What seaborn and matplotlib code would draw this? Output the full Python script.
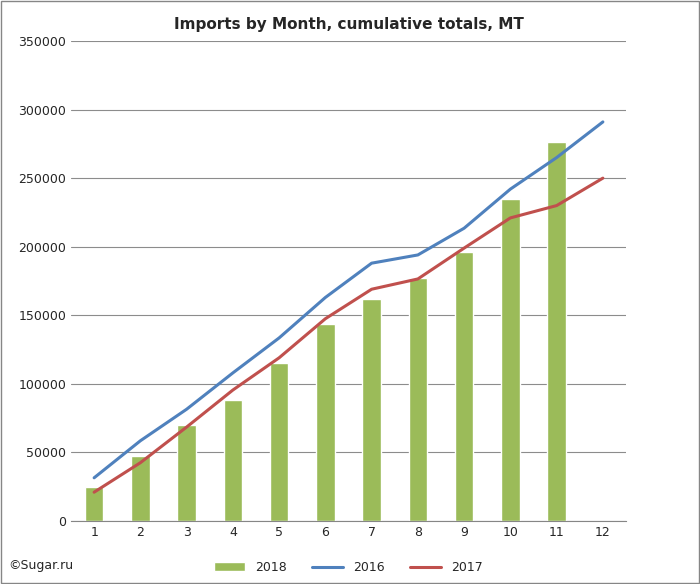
import matplotlib
matplotlib.use("Agg")
import matplotlib.pyplot as plt
import seaborn as sns
import pandas as pd
from matplotlib.patches import Rectangle

months = list(range(1, 13))
imports_2018 = [25000, 47500, 70000, 88500, 115000, 144000, 162000, 177000, 196500, 234500, 276500, None]
imports_2016 = [31500, 58500, 81500, 108000, 133500, 163000, 188000, 194000, 213500, 242000, 265000, 291000]
imports_2017 = [21000, 42500, 68500, 95500, 119000, 147500, 169000, 176500, 199000, 221000, 230000, 250000]

df = pd.DataFrame({"month": months, "y2018": imports_2018,
                   "y2016": imports_2016, "y2017": imports_2017})
df["pos"] = range(len(df))

sns.set_style("white")
fig = plt.figure(figsize=(7, 5.84), dpi=100)
ax = fig.add_axes([71 / 700, 63 / 584, 555 / 700, 480 / 584])

sns.barplot(data=df, x="pos", y="y2018", color="#9bbb59", width=0.4,
            saturation=1, ax=ax, label="2018")
sns.lineplot(data=df, x="pos", y="y2016", color="#4f81bd", lw=2.2, ax=ax, label="2016")
sns.lineplot(data=df, x="pos", y="y2017", color="#c0504d", lw=2.2, ax=ax, label="2017")

ax.set_ylim(0, 350000)
ax.set_xlim(-0.5, 11.5)
ax.set_yticks(range(0, 350001, 50000))
ax.set_xticks(range(12))
ax.set_xticklabels([str(m) for m in months])
ax.yaxis.grid(True, color="#8c8c8c", lw=0.8)
ax.set_axisbelow(True)
for s in ["top", "right", "left"]:
    ax.spines[s].set_visible(False)
ax.spines["bottom"].set_color("#868686")
ax.tick_params(axis="both", labelsize=9, length=0)
ax.set_xlabel("")
ax.set_ylabel("")
ax.set_title("Imports by Month, cumulative totals, MT", fontsize=11,
             fontweight="bold", pad=9)

# порядок легенды как в оригинале: 2018, 2016, 2017
handles, labels = ax.get_legend_handles_labels()
order = [labels.index(l) for l in ["2018", "2016", "2017"]]
ax.legend([handles[i] for i in order], [labels[i] for i in order],
          loc="upper center", bbox_to_anchor=(0.5, -0.06), ncol=3,
          frameon=False, fontsize=9, handlelength=2.5)

fig.text(8 / 700, 1 - 566 / 584, "©Sugar.ru", fontsize=9, va="center")
fig.patches.append(Rectangle((0.002, 0.002), 0.996, 0.996, transform=fig.transFigure,
                             fill=False, edgecolor="#868686", lw=1))

fig.savefig("out.png", dpi=100)
